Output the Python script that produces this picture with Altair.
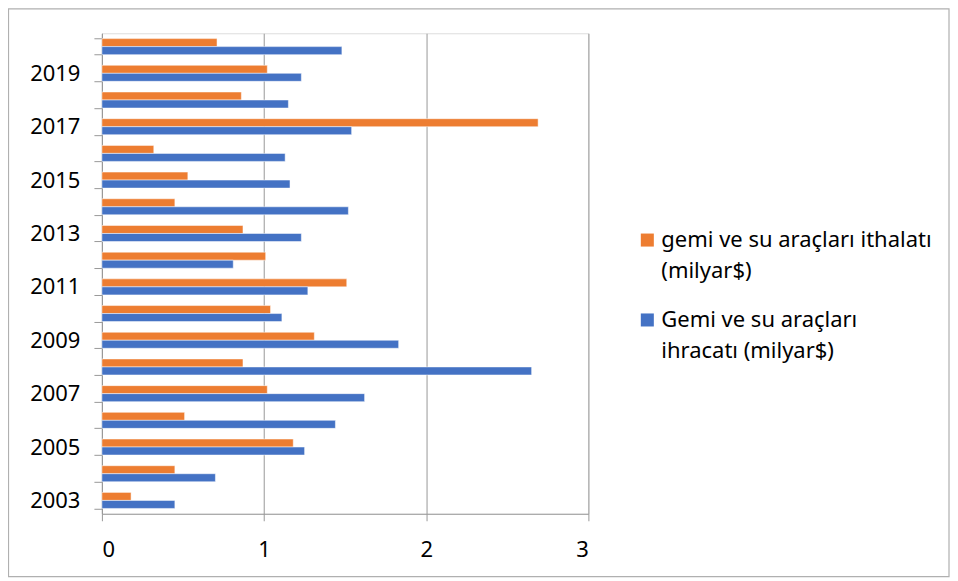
import altair as alt
import pandas as pd

years = [str(y) for y in range(2003, 2021)]
ithalat = [0.18, 0.45, 1.18, 0.51, 1.02, 0.87, 1.31, 1.04, 1.51, 1.01,
           0.87, 0.45, 0.53, 0.32, 2.69, 0.86, 1.02, 0.71]
ihracat = [0.45, 0.70, 1.25, 1.44, 1.62, 2.65, 1.83, 1.11, 1.27, 0.81,
           1.23, 1.52, 1.16, 1.13, 1.54, 1.15, 1.23, 1.48]
series = ["gemi ve su araçları ithalatı\n(milyar$)",
          "Gemi ve su araçları\nihracatı (milyar$)"]
colors = ["#ED7D31", "#4472C4"]
x_ticks = [0, 1, 2, 3]

rows = []
for i, y in enumerate(years):
    rows.append({"year": y, "series": series[0], "value": ithalat[i]})
    rows.append({"year": y, "series": series[1], "value": ihracat[i]})
df = pd.DataFrame(rows)

FONT = "Noto Sans"

bars = alt.Chart(df).mark_bar(stroke="white", strokeWidth=0.5).encode(
    x=alt.X("value:Q", scale=alt.Scale(domain=[0, 3], nice=False),
            axis=alt.Axis(values=x_ticks, format="d", grid=True, gridColor="#999999",
                          domainColor="#999999", tickColor="#999999", tickSize=7,
                          labelFontSize=22, labelPadding=19, labelColor="#000000",
                          labelFont=FONT, title=None)),
    y=alt.Y("year:N", sort="descending",
            scale=alt.Scale(paddingInner=0.4, paddingOuter=0.2),
            axis=alt.Axis(tickBand="extent", tickSize=8, tickColor="#999999",
                          domainColor="#999999", labelFontSize=22, labelPadding=14,
                          labelColor="#000000", labelFont=FONT, grid=False,
                          labelExpr="toNumber(datum.value) % 2 == 1 ? datum.label : ''",
                          title=None)),
    yOffset=alt.YOffset("series:N", sort=series, scale=alt.Scale(domain=series)),
    color=alt.Color("series:N", scale=alt.Scale(domain=series, range=colors),
                    legend=alt.Legend(title=None, orient="none", legendX=535, legendY=196,
                                      symbolType="square", symbolSize=170,
                                      symbolStrokeWidth=0, labelFontSize=22,
                                      labelFont=FONT, labelColor="#000000",
                                      labelLimit=400, rowPadding=27, labelOffset=3,
                                      labelExpr="split(datum.label, '\\n')")),
)

border = alt.Chart(pd.DataFrame({"a": [0]})).mark_rect(
    fillOpacity=0, stroke="#b0b0b0", strokeWidth=1.2
).encode(
    x=alt.value(-93.5), x2=alt.value(848), y=alt.value(-24.5), y2=alt.value(544)
)

chart = alt.layer(border, bars).properties(
    width=487, height=481,
    autosize=alt.AutoSizeParams(type="none"),
    padding={"left": 94, "top": 25, "right": 362, "bottom": 64},
).configure_view(strokeWidth=0).configure(
    style={"guide-label": {"lineHeight": 31}}
)

chart.save("out.html", embed_options={"renderer": "svg", "actions": False})
